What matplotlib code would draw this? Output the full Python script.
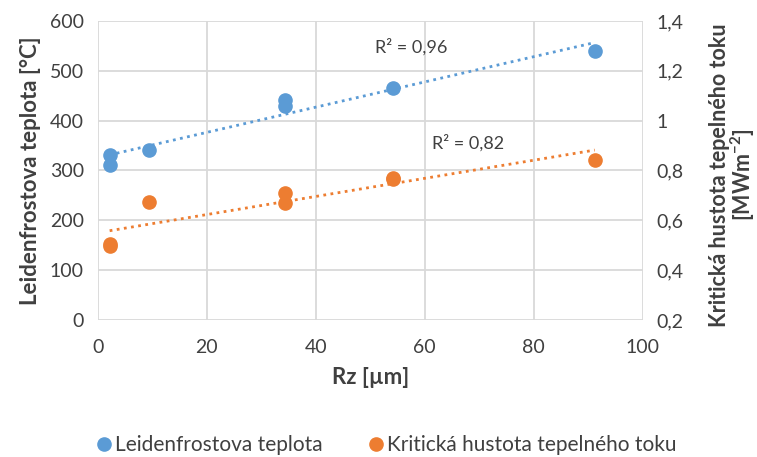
import numpy as np
import matplotlib
matplotlib.use("Agg")
import matplotlib.pyplot as plt
from matplotlib.lines import Line2D

plt.rcParams['font.family'] = ['Lato', 'DejaVu Sans']
plt.rcParams['mathtext.fontset'] = 'custom'
plt.rcParams['mathtext.rm'] = 'Lato'
plt.rcParams['mathtext.bf'] = 'Lato:bold'

# Leidenfrost temperature [°C] vs Rz [um]
rz_t = [2.2, 2.2, 9.5, 34.3, 34.3, 54.1, 91.2]
temp = [331, 310, 341, 441, 429, 465, 540]

# Critical heat flux [MW/m2] vs Rz [um]
rz_q = [2.2, 2.2, 9.5, 34.3, 34.3, 54.1, 54.1, 91.2]
chf = [0.496, 0.504, 0.674, 0.710, 0.668, 0.768, 0.764, 0.842]

r2_t = "R² = 0,96"
r2_q = "R² = 0,82"

blue = '#5B9BD5'
orange = '#ED7D31'
grid_c = '#D9D9D9'
txt = '#404040'

fig = plt.figure(figsize=(7.57, 4.57), dpi=100)
ax = fig.add_axes([0.129, 0.300, 0.720, 0.654])
ax2 = ax.twinx()

ax.set_xlim(0, 100)
ax.set_ylim(0, 600)
ax2.set_ylim(0.2, 1.4)
ax.set_xticks(np.arange(0, 101, 20))
ax.set_yticks(np.arange(0, 601, 100))
ax2.set_yticks(np.arange(0.2, 1.41, 0.2))
ax2.set_yticklabels(['0,2', '0,4', '0,6', '0,8', '1', '1,2', '1,4'])

ax.grid(True, color=grid_c, linewidth=1.3)
ax.set_axisbelow(True)
for a in (ax, ax2):
    for s in a.spines.values():
        s.set_visible(False)
    a.tick_params(length=0, labelsize=14, labelcolor=txt)
ax.tick_params(axis='y', pad=10)
ax.tick_params(axis='x', pad=14)
ax2.tick_params(axis='y', pad=10)

# trend lines (linear fit)
kt = np.polyfit(rz_t, temp, 1)
xt = np.array([min(rz_t), max(rz_t)])
ax.plot(xt, np.polyval(kt, xt), color=blue, linestyle=(0, (1, 1.6)), linewidth=2)
kq = np.polyfit(rz_q, chf, 1)
xq = np.array([min(rz_q), max(rz_q)])
ax2.plot(xq, np.polyval(kq, xq), color=orange, linestyle=(0, (1, 1.6)), linewidth=2)

ax.plot(rz_t, temp, 'o', color=blue, markersize=9.5, zorder=5)
ax2.plot(rz_q, chf, 'o', color=orange, markersize=9.5, zorder=5)

ax.text(50.8, 548, r2_t, fontsize=13, color=txt, va='center')
ax.text(61.3, 355, r2_q, fontsize=13, color=txt, va='center')

ax.set_xlabel('Rz [µm]', fontsize=16, fontweight='bold', color=txt, labelpad=8)
ax.set_ylabel('Leidenfrostova teplota [°C]', fontsize=16, fontweight='bold', color=txt, labelpad=6)
fig.text(0.968, 0.617, 'Kritická hustota tepelného toku\n[MWm$^{\\mathbf{-2}}$]',
         rotation=90, fontsize=15.5, fontweight='bold', color=txt, ha='center',
         va='center', multialignment='center', linespacing=0.95)

handles = [
    Line2D([0], [0], marker='o', linestyle='none', color=blue, markersize=9.5,
           label='Leidenfrostova teplota'),
    Line2D([0], [0], marker='o', linestyle='none', color=orange, markersize=9.5,
           label='Kritická hustota tepelného toku'),
]
leg = fig.legend(handles=handles, loc='center', bbox_to_anchor=(0.51, 0.026), ncol=2,
                 frameon=False, fontsize=15, handlelength=0.8, handletextpad=0.1,
                 columnspacing=2.2, borderpad=0)
for t in leg.get_texts():
    t.set_color(txt)

fig.savefig("out.png", dpi=100)
